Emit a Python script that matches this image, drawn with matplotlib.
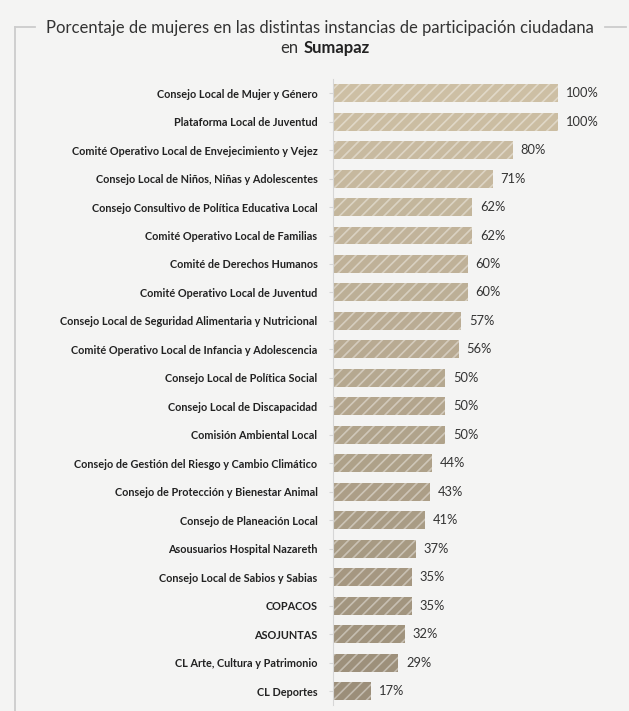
import numpy as np
import matplotlib.pyplot as plt
from matplotlib.lines import Line2D
from matplotlib.colors import to_rgb

# --- data ---
instancias = [
    'Consejo Local de Mujer y Género',
    'Plataforma Local de Juventud',
    'Comité Operativo Local de Envejecimiento y Vejez',
    'Consejo Local de Niños, Niñas y Adolescentes',
    'Consejo Consultivo de Política Educativa Local',
    'Comité Operativo Local de Familias',
    'Comité de Derechos Humanos',
    'Comité Operativo Local de Juventud',
    'Consejo Local de Seguridad Alimentaria y Nutricional',
    'Comité Operativo Local de Infancia y Adolescencia',
    'Consejo Local de Política Social',
    'Consejo Local de Discapacidad',
    'Comisión Ambiental Local',
    'Consejo de Gestión del Riesgo y Cambio Climático',
    'Consejo de Protección y Bienestar Animal',
    'Consejo de Planeación Local',
    'Asousuarios Hospital Nazareth',
    'Consejo Local de Sabios y Sabias',
    'COPACOS',
    'ASOJUNTAS',
    'CL Arte, Cultura y Patrimonio',
    'CL Deportes',
]
porcentajes = [100, 100, 80, 71, 62, 62, 60, 60, 57, 56, 50, 50, 50,
               44, 43, 41, 37, 35, 35, 32, 29, 17]

# --- colours: light beige at the top, darker at the bottom ---
top_c = np.array(to_rgb('#cdbfa4'))
bot_c = np.array(to_rgb('#9b8e79'))
n = len(porcentajes)
colors = [tuple(top_c + (bot_c - top_c) * i / (n - 1)) for i in range(n)]

plt.rcParams['hatch.linewidth'] = 1.2
bg = '#f4f4f3'

fig = plt.figure(figsize=(6.29, 7.11), dpi=100, facecolor=bg)
ax = fig.add_axes([0.529, 0.008, 0.358, 0.881], facecolor=bg)

y = np.arange(n)
ax.barh(y, porcentajes, height=0.63, color=colors,
        edgecolor=(1, 1, 1, 0.4), linewidth=0, hatch='///')

for yi, v in zip(y, porcentajes):
    ax.text(v + 3.5, yi, f'{v}%', va='center', ha='left',
            fontsize=9.3, family='Lato', color='#333333')

ax.set_xlim(0, 100)
ax.set_ylim(n - 0.5, -0.5)
ax.set_yticks(y)
ax.set_yticklabels(instancias, family='Lato', fontweight='bold',
                   fontsize=7.8, color='#222222')
ax.tick_params(axis='y', length=3, color='#d6d6d6', pad=8)
ax.set_xticks([])
for s in ['top', 'right', 'bottom']:
    ax.spines[s].set_visible(False)
ax.spines['left'].set_color('#d6d6d6')

# --- title ---
fig.text(0.509, 0.961, 'Porcentaje de mujeres en las distintas instancias de participación ciudadana',
         ha='center', va='center', fontsize=12.0, family='Lato', color='#333333')
fig.text(0.475, 0.933, 'en', ha='right', va='center', fontsize=12.0,
         family='Lato', color='#333333')
fig.text(0.482, 0.933, 'Sumapaz', ha='left', va='center', fontsize=12.0,
         family='Lato', fontweight='bold', color='#222222')

# --- frame lines ---
lc = '#cccccc'
fig.add_artist(Line2D([0.024, 0.024], [0.0, 0.962], color=lc, lw=1.3))
fig.add_artist(Line2D([0.024, 0.056], [0.962, 0.962], color=lc, lw=1.3))
fig.add_artist(Line2D([0.962, 0.995], [0.962, 0.962], color=lc, lw=1.3))

plt.savefig('out.png', dpi=100, facecolor=bg)
